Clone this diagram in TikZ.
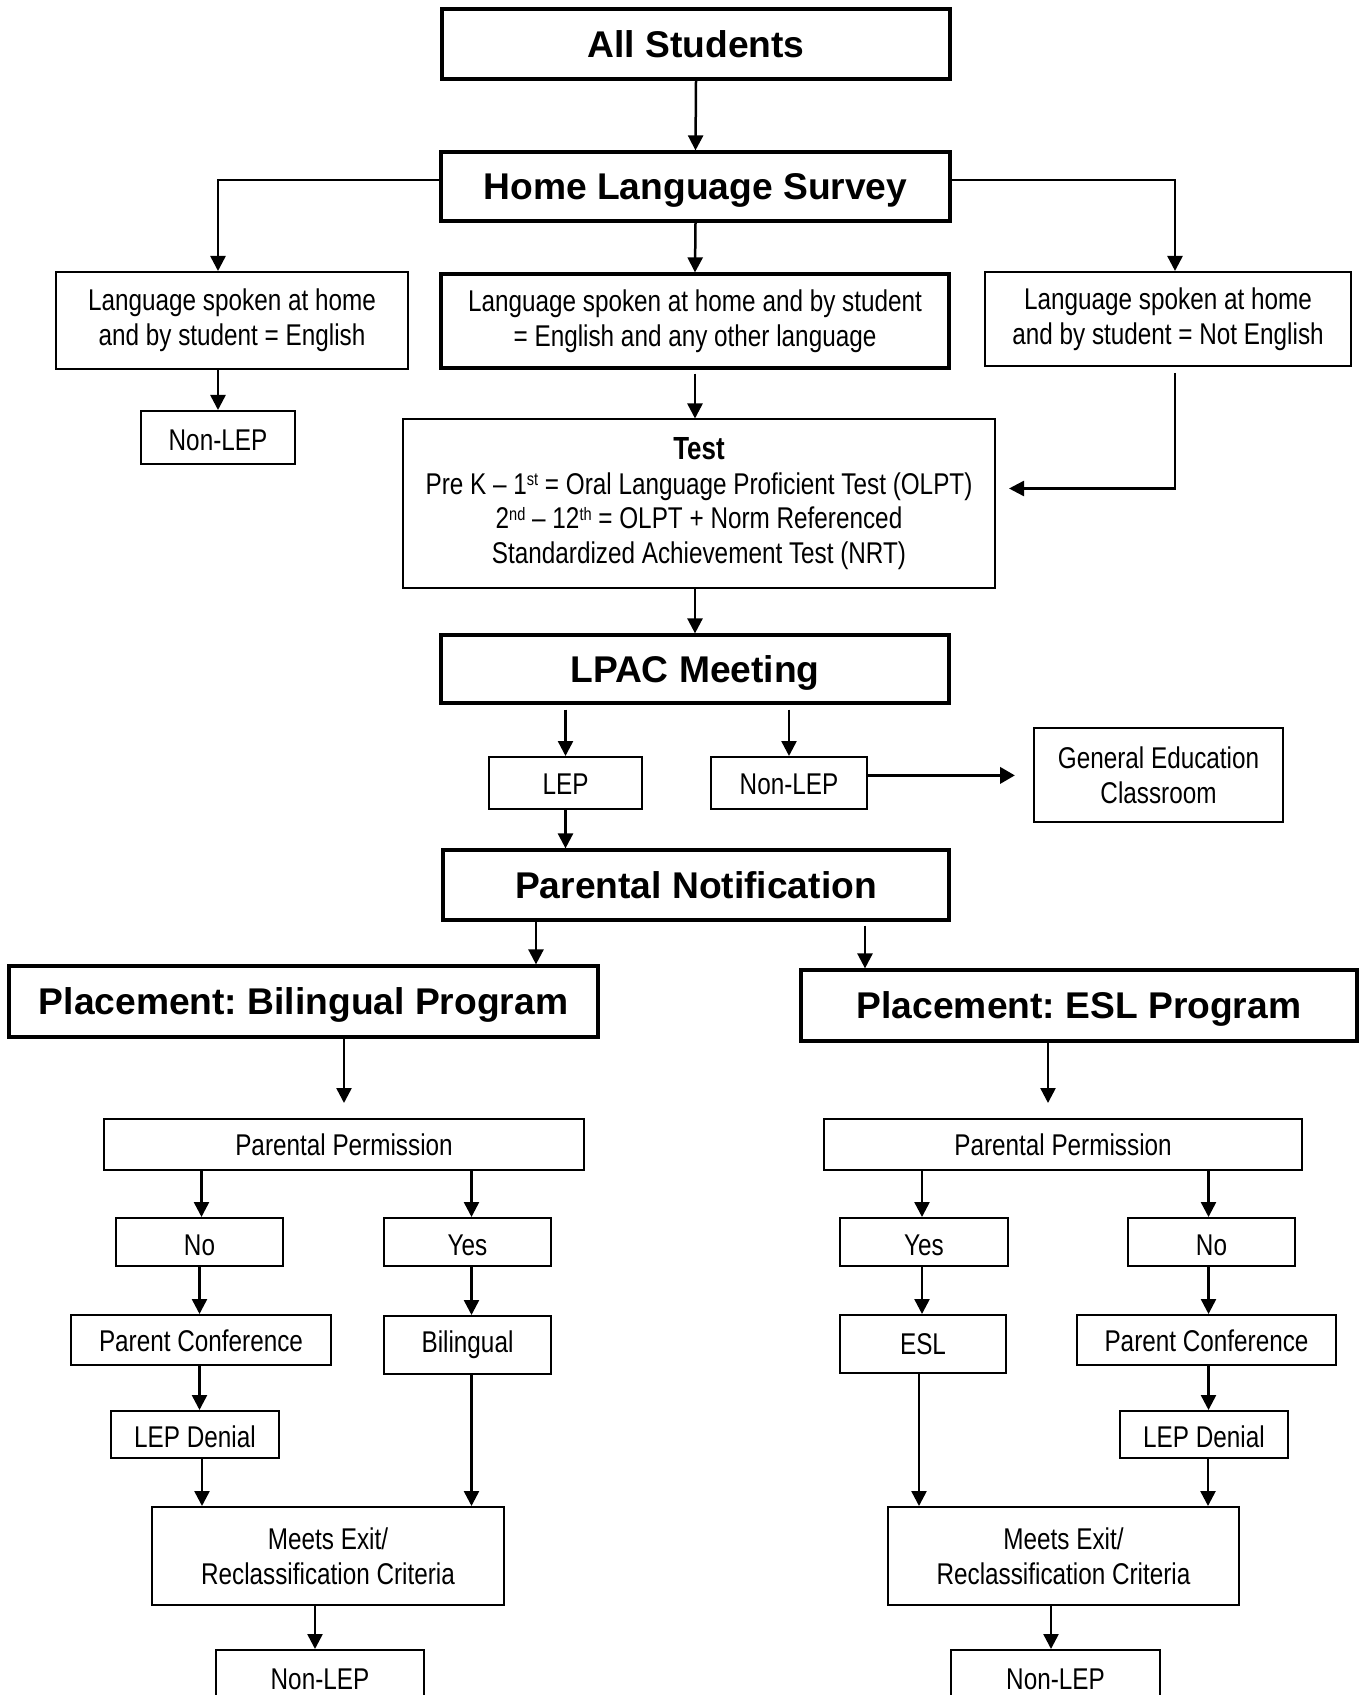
\documentclass[tikz,border=0pt]{standalone}
\usepackage{fontspec}
\setmainfont{Liberation Sans}
\newfontfamily\narrowfont{Liberation Sans}[FakeStretch=0.81,Ligatures=TeX]
\usetikzlibrary{arrows.meta}
\newcommand{\mysup}[1]{\raisebox{4.2pt}{\fontsize{9}{9}\selectfont #1}}
\begin{document}
\begin{tikzpicture}[x=0.5pt,y=-0.5pt,
 smallbox/.style={draw, line width=1pt, inner sep=0pt, align=center, font=\narrowfont\frenchspacing\fontsize{15}{17.3}\selectfont},
 bigbox/.style={draw, line width=1.6pt, inner sep=0pt, align=center, text depth=0pt, font=\bfseries\frenchspacing\fontsize{18.6}{22}\selectfont},
 lowtext/.style={text height=#1, text depth=0pt},
 arr/.style={line width=1.25pt, -{Triangle[length=7.5pt,width=7.5pt]}}
]
\useasboundingbox (0,0) rectangle (1359,1695);
\fill[white] (0,0) rectangle (1359,1695);
\clip (0,0) rectangle (1359,1695);

% top part
\node[bigbox, minimum width=254pt, minimum height=35pt] (all) at (696,44) {All Students};
\node[bigbox, minimum width=254.5pt, minimum height=34.5pt] (hls) at (695.5,186.5) {Home Language Survey};
\node[smallbox, minimum width=176pt, minimum height=48.5pt] (lang1) at (232,320.5) {Language spoken at home\\and by student = English};
\node[smallbox, line width=1.6pt, minimum width=254pt, minimum height=47pt] (lang2) at (695,321) {Language spoken at home and by student\\= English and any other language};
\node[smallbox, minimum width=183pt, minimum height=47pt] (lang3) at (1168,319) {Language spoken at home\\and by student = Not English};
\node[smallbox, minimum width=77pt, minimum height=26.5pt, lowtext=13.5pt] (nl1) at (218,437.5) {Non-LEP};
\node[smallbox, minimum width=296pt, minimum height=84pt] (test) at (699,503.5) {{\bfseries\fontsize{16}{17.3}\selectfont Test}\\Pre K \textendash{} 1\mysup{st} = Oral Language Proficient Test (OLPT)\\2\mysup{nd} \textendash{} 12\mysup{th} = OLPT + Norm Referenced\\Standardized Achievement Test (NRT)};
\node[bigbox, minimum width=254pt, minimum height=34pt] (lpac) at (695,669) {LPAC Meeting};
\node[smallbox, minimum width=76.5pt, minimum height=26pt, lowtext=11.8pt] (lep) at (565.5,783) {LEP};
\node[smallbox, minimum width=78pt, minimum height=26pt, lowtext=11.8pt] (nl2) at (789,783) {Non-LEP};
\node[smallbox, minimum width=124.5pt, minimum height=47pt] (gened) at (1158.5,775) {General Education\\Classroom};
\node[bigbox, minimum width=253pt, minimum height=35pt] (pn) at (696,885) {Parental Notification};
\node[bigbox, minimum width=294.5pt, minimum height=35.5pt] (plbil) at (303.5,1001.5) {Placement: Bilingual Program};
\node[bigbox, minimum width=278pt, minimum height=35.5pt] (plesl) at (1079,1005.5) {Placement: ESL Program};

% left branch
\node[smallbox, minimum width=240pt, minimum height=25.5pt] (ppL) at (344,1144.5) {Parental Permission};
\node[smallbox, minimum width=83.5pt, minimum height=24pt, lowtext=13.5pt] (noL) at (199.5,1242) {No};
\node[smallbox, minimum width=83.5pt, minimum height=24pt, lowtext=13.5pt] (yesL) at (467.5,1242) {Yes};
\node[smallbox, minimum width=130pt, minimum height=25pt, lowtext=11.8pt] (pcL) at (201,1340) {Parent Conference};
\node[smallbox, minimum width=83.5pt, minimum height=29pt] (bil) at (467.5,1345) {Bilingual};
\node[smallbox, minimum width=84pt, minimum height=23.5pt, lowtext=12.5pt] (ldL) at (195,1434.5) {LEP Denial};
\node[smallbox, minimum width=176pt, minimum height=49pt] (meL) at (328,1556) {Meets Exit/\\Reclassification Criteria};
\node[smallbox, minimum width=104pt, minimum height=28pt, lowtext=11pt] (nlL) at (320,1678) {Non-LEP};

% right branch
\node[smallbox, minimum width=239pt, minimum height=25.5pt] (ppR) at (1063,1144.5) {Parental Permission};
\node[smallbox, minimum width=84pt, minimum height=24pt, lowtext=13.5pt] (yesR) at (924,1242) {Yes};
\node[smallbox, minimum width=83.5pt, minimum height=24pt, lowtext=13.5pt] (noR) at (1211.5,1242) {No};
\node[smallbox, minimum width=83pt, minimum height=29pt, lowtext=10.7pt] (esl) at (923,1344) {ESL};
\node[smallbox, minimum width=129.5pt, minimum height=25pt, lowtext=11.8pt] (pcR) at (1206.5,1340) {Parent Conference};
\node[smallbox, minimum width=84pt, minimum height=23.5pt, lowtext=12.5pt] (ldR) at (1204,1434.5) {LEP Denial};
\node[smallbox, minimum width=175.5pt, minimum height=49pt] (meR) at (1063.5,1556) {Meets Exit/\\Reclassification Criteria};
\node[smallbox, minimum width=104.5pt, minimum height=28pt, lowtext=11pt] (nlR) at (1055.5,1678) {Non-LEP};

% connectors top
\draw[arr] (all.south) -- (hls.north);
\draw[arr] ([yshift=3.25pt]hls.west) -| ([xshift=-7pt]lang1.north);
\draw[arr] ([yshift=3.25pt]hls.east) -| ([xshift=3.5pt]lang3.north);
\draw[arr] (hls.south) -- (lang2.north);
\draw[arr] (nl1.north |- lang1.south) -- (nl1.north);
\draw[arr, shorten <=2pt] (lang2.south) -- (lang2.south |- test.north);
\draw[arr, shorten <=3pt, shorten >=6.5pt] ([xshift=3.5pt]lang3.south) |- ([yshift=7.5pt]test.east);
\draw[arr] (test.south -| lpac.south) -- (lpac.north);
\draw[arr, shorten <=2.5pt] (lep.north |- lpac.south) -- (lep.north);
\draw[arr, shorten <=2.5pt] (nl2.north |- lpac.south) -- (nl2.north);
\draw[line width=1.9pt, -{Triangle[length=7.5pt,width=8pt]}, shorten >=9pt] ([yshift=3.8pt]nl2.east) -- ([yshift=3.8pt]nl2.east -| gened.west);
\draw[arr] (lep.south) -- (lep.south |- pn.north);
\draw[arr] ([xshift=-80pt]pn.south) -- ([xshift=-80pt]pn.south |- plbil.north);
\draw[arr, shorten <=2pt] ([xshift=84.5pt]pn.south) -- ([xshift=84.5pt]pn.south |- plesl.north);
\draw[arr, shorten >=7.5pt] (ppL.north |- plbil.south) -- (ppL.north);
\draw[arr, shorten >=7.5pt] ([xshift=-7.5pt]ppR.north |- plesl.south) -- ([xshift=-7.5pt]ppR.north);

% left branch connectors
\draw[arr] ([xshift=1pt]noL.north |- ppL.south) -- ([xshift=1pt]noL.north);
\draw[arr] ([xshift=2pt]yesL.north |- ppL.south) -- ([xshift=2pt]yesL.north);
\draw[arr] (noL.south) -- (noL.south |- pcL.north);
\draw[arr] (noL.south |- pcL.south) -- (noL.south |- ldL.north);
\draw[arr] ([xshift=3.5pt]ldL.south) -- ([xshift=3.5pt]ldL.south |- meL.north);
\draw[arr] ([xshift=2pt]yesL.south) -- ([xshift=2pt]yesL.south |- bil.north);
\draw[arr] ([xshift=2pt]bil.south) -- ([xshift=2pt]bil.south |- meL.north);
\draw[arr] ([xshift=-2.5pt]nlL.north |- meL.south) -- ([xshift=-2.5pt]nlL.north);

% right branch connectors
\draw[arr] ([xshift=-1pt]yesR.north |- ppR.south) -- ([xshift=-1pt]yesR.north);
\draw[arr] ([xshift=-1.5pt]noR.north |- ppR.south) -- ([xshift=-1.5pt]noR.north);
\draw[arr] ([xshift=-1pt]yesR.south) -- ([xshift=-1pt]yesR.south |- esl.north);
\draw[arr] ([xshift=-2pt]esl.south) -- ([xshift=-2pt]esl.south |- meR.north);
\draw[arr] ([xshift=-1.5pt]noR.south) -- ([xshift=-1.5pt]noR.south |- pcR.north);
\draw[arr] ([xshift=-1.5pt]noR.south |- pcR.south) -- ([xshift=-1.5pt]noR.south |- ldR.north);
\draw[arr] ([xshift=2pt]ldR.south) -- ([xshift=2pt]ldR.south |- meR.north);
\draw[arr] ([xshift=-2.25pt]nlR.north |- meR.south) -- ([xshift=-2.25pt]nlR.north);
\end{tikzpicture}
\end{document}
